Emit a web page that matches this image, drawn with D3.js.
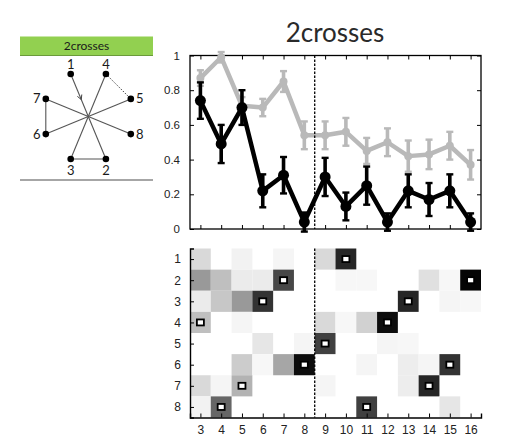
<!DOCTYPE html>
<html>
<head>
<meta charset="utf-8">
<script src="https://cdn.jsdelivr.net/npm/d3@7/dist/d3.min.js"></script>
<style>
  html, body { margin: 0; padding: 0; background: #fff; }
  svg { display: block; }
</style>
</head>
<body>
<svg id="chart" width="506" height="438"></svg>
<script>
// ---- data ----
const positions = [3, 4, 5, 6, 7, 8, 9, 10, 11, 12, 13, 14, 15, 16];
const grayMean = [0.87, 0.99, 0.71, 0.70, 0.85, 0.54, 0.54, 0.56, 0.45, 0.50, 0.42, 0.43, 0.48, 0.37];
const grayErr  = [0.045, 0.03, 0.05, 0.05, 0.06, 0.08, 0.08, 0.08, 0.075, 0.08, 0.09, 0.085, 0.08, 0.085];
const blackMean = [0.74, 0.49, 0.70, 0.22, 0.31, 0.04, 0.30, 0.13, 0.25, 0.04, 0.22, 0.17, 0.22, 0.04];
const blackErr  = [0.105, 0.11, 0.10, 0.095, 0.105, 0.055, 0.11, 0.08, 0.11, 0.05, 0.095, 0.095, 0.095, 0.05];
const yTicks = [0, 0.2, 0.4, 0.6, 0.8, 1];
const items = [1, 2, 3, 4, 5, 6, 7, 8];
// correct item at each position of the sequence
const targets = [4, 8, 7, 3, 2, 6, 5, 1, 8, 4, 3, 7, 6, 2];
// response proportions: one row per item, one column per position (3..16)
const row1 = [0.15, 0.00, 0.05, 0.00, 0.04, 0.00, 0.15, 0.85, 0.00, 0.00, 0.00, 0.00, 0.00, 0.00];
const row2 = [0.40, 0.25, 0.08, 0.08, 0.72, 0.00, 0.00, 0.03, 0.03, 0.00, 0.00, 0.12, 0.03, 0.98];
const row3 = [0.08, 0.22, 0.40, 0.80, 0.00, 0.00, 0.00, 0.00, 0.00, 0.00, 0.85, 0.00, 0.04, 0.03];
const row4 = [0.25, 0.00, 0.04, 0.00, 0.00, 0.00, 0.15, 0.03, 0.18, 0.95, 0.00, 0.00, 0.00, 0.00];
const row5 = [0.00, 0.00, 0.00, 0.10, 0.00, 0.04, 0.75, 0.00, 0.00, 0.04, 0.03, 0.00, 0.00, 0.00];
const row6 = [0.00, 0.00, 0.20, 0.03, 0.35, 0.95, 0.00, 0.00, 0.04, 0.00, 0.07, 0.04, 0.80, 0.00];
const row7 = [0.15, 0.04, 0.30, 0.00, 0.00, 0.00, 0.04, 0.00, 0.00, 0.00, 0.07, 0.85, 0.00, 0.00];
const row8 = [0.05, 0.60, 0.00, 0.00, 0.00, 0.00, 0.00, 0.00, 0.75, 0.00, 0.00, 0.00, 0.10, 0.00];
const matrixRows = [row1, row2, row3, row4, row5, row6, row7, row8];
const divider = 8.5;

// pattern diagram: octagon order (clockwise from top-left) and edges
const nodeOrder = [1, 4, 5, 8, 2, 3, 6, 7];
const solidEdges = [[1, 2], [4, 3], [7, 8], [5, 6], [7, 6], [3, 2]];
const dottedEdges = [[4, 5]];
const patternName = "2crosses";

// ---- drawing ----
const svg = d3.select("#chart");
const axisFont = "'Liberation Sans', Arial, sans-serif";
const titleFont = "Lato, 'Open Sans', sans-serif";

// title
svg.append("text")
  .attr("x", 335).attr("y", 41.5)
  .attr("text-anchor", "middle")
  .attr("font-family", titleFont)
  .attr("font-size", 26)
  .attr("fill", "#2a2a2a")
  .text(patternName);

// shared x scale
const x = d3.scaleLinear().domain([2.5, 16.5]).range([190, 481]);

// ---------- top panel: proportion per position ----------
const yTop = d3.scaleLinear().domain([0, 1]).range([229, 55.5]);
const topPanel = svg.append("g");

const tickLen = 4;
// frame
topPanel.append("rect")
  .attr("x", x(2.5)).attr("y", yTop(1))
  .attr("width", x(16.5) - x(2.5)).attr("height", yTop(0) - yTop(1))
  .attr("fill", "none").attr("stroke", "#000").attr("stroke-width", 1.3);

// inward ticks on all four sides
const xAxisB = d3.axisTop(x).tickValues(positions).tickSize(tickLen).tickFormat("");
topPanel.append("g").attr("transform", `translate(0,${yTop(0)})`).call(xAxisB);
const xAxisT = d3.axisBottom(x).tickValues(positions).tickSize(tickLen).tickFormat("");
topPanel.append("g").attr("transform", `translate(0,${yTop(1)})`).call(xAxisT);
const yAxisL = d3.axisLeft(yTop).tickValues(yTicks).tickSize(-tickLen)
  .tickFormat(d => d === 0 || d === 1 ? d3.format("d")(d) : d3.format(".1f")(d))
  .tickPadding(10);
topPanel.append("g").attr("transform", `translate(${x(2.5)},0)`).call(yAxisL);
const yAxisR = d3.axisRight(yTop).tickValues(yTicks).tickSize(-tickLen).tickFormat("");
topPanel.append("g").attr("transform", `translate(${x(16.5)},0)`).call(yAxisR);
topPanel.selectAll(".domain").remove();
topPanel.selectAll(".tick line").attr("stroke", "#000");
topPanel.selectAll(".tick text").attr("font-family", axisFont).attr("font-size", 11.5).attr("fill", "#222");

function drawSeries(g, means, errs, color, r, lw) {
  const pts = positions.map((p, i) => ({ p, m: means[i], e: errs[i] }));
  const line = d3.line().x(d => x(d.p)).y(d => yTop(d.m));
  g.append("path").datum(pts)
    .attr("d", line).attr("fill", "none")
    .attr("stroke", color).attr("stroke-width", lw).attr("stroke-linejoin", "round");
  const eb = g.append("g").selectAll("g").data(pts).join("g");
  eb.append("line")
    .attr("x1", d => x(d.p)).attr("x2", d => x(d.p))
    .attr("y1", d => yTop(d.m + d.e)).attr("y2", d => yTop(d.m - d.e))
    .attr("stroke", color).attr("stroke-width", 3.6);
  [1, -1].forEach(s => {
    eb.append("line")
      .attr("x1", d => x(d.p) - 3.5).attr("x2", d => x(d.p) + 3.5)
      .attr("y1", d => yTop(d.m + s * d.e)).attr("y2", d => yTop(d.m + s * d.e))
      .attr("stroke", color).attr("stroke-width", 2.4);
  });
  g.append("g").selectAll("circle").data(pts).join("circle")
    .attr("cx", d => x(d.p)).attr("cy", d => yTop(d.m))
    .attr("r", r).attr("fill", color);
}
const plot = topPanel.append("g");
drawSeries(plot, grayMean, grayErr, "#b9b9b9", 4, 4.5);
drawSeries(plot, blackMean, blackErr, "#000", 5.5, 4.5);

topPanel.append("line")
  .attr("x1", x(divider)).attr("x2", x(divider))
  .attr("y1", yTop(1)).attr("y2", yTop(0))
  .attr("stroke", "#000").attr("stroke-width", 1.3).attr("stroke-dasharray", "2.5,1.5");

// ---------- bottom panel: response matrix ----------
const yBot = d3.scaleLinear().domain([0.5, 8.5]).range([248.5, 417.5]);
const bot = svg.append("g");
const shade = d3.scaleLinear().domain([0, 1]).range(["#ffffff", "#000000"]);

const cells = [];
matrixRows.forEach((row, ri) => row.forEach((v, ci) => {
  cells.push({ item: items[ri], pos: positions[ci], v });
}));
bot.append("g").selectAll("rect").data(cells.filter(d => d.v > 0)).join("rect")
  .attr("x", d => x(d.pos - 0.5)).attr("y", d => yBot(d.item - 0.5))
  .attr("width", d => x(d.pos + 0.5) - x(d.pos - 0.5))
  .attr("height", d => yBot(d.item + 0.5) - yBot(d.item - 0.5))
  .attr("fill", d => shade(d.v));

// correct-item markers
bot.append("g").selectAll("rect").data(positions.map((p, i) => ({ p, item: targets[i] }))).join("rect")
  .attr("x", d => x(d.p) - 3.5).attr("y", d => yBot(d.item) - 3)
  .attr("width", 7).attr("height", 6)
  .attr("fill", "#fff").attr("stroke", "#000").attr("stroke-width", 1.8);

const bx = d3.axisBottom(x).tickValues(positions).tickSize(-tickLen).tickPadding(8);
bot.append("g").attr("class", "bx").attr("transform", `translate(0,${yBot(8.5)})`).call(bx);
const by = d3.axisLeft(yBot).tickValues(items).tickSize(-tickLen).tickPadding(9);
bot.append("g").attr("class", "by").attr("transform", `translate(${x(2.5)},0)`).call(by);
bot.selectAll(".domain").attr("stroke", "#000").attr("stroke-width", 1.4);
bot.selectAll(".tick line").attr("stroke", "#000");
bot.selectAll(".tick text").attr("font-family", axisFont).attr("font-size", 12).attr("fill", "#222");

bot.append("line")
  .attr("x1", x(divider)).attr("x2", x(divider))
  .attr("y1", yBot(0.5)).attr("y2", yBot(8.5))
  .attr("stroke", "#000").attr("stroke-width", 1.3).attr("stroke-dasharray", "2.5,1.5");

// ---------- pattern diagram ----------
const diag = svg.append("g");
diag.append("rect").attr("x", 20).attr("y", 36.5).attr("width", 133).attr("height", 19.5)
  .attr("fill", "#92d050");
diag.append("line").attr("x1", 20).attr("x2", 153).attr("y1", 55.5).attr("y2", 55.5)
  .attr("stroke", "#6b9a3a").attr("stroke-width", 1);
diag.append("text").attr("x", 86.5).attr("y", 50)
  .attr("text-anchor", "middle").attr("font-family", titleFont).attr("font-size", 12)
  .attr("fill", "#1a1a1a").text(patternName);
diag.append("line").attr("x1", 20).attr("x2", 153).attr("y1", 180).attr("y2", 180)
  .attr("stroke", "#a6a6a6").attr("stroke-width", 2);

const cx = 88.3, cy = 116.5, R = 46;
const nodePos = {};
nodeOrder.forEach((n, i) => {
  const a = (-22.5 + 45 * i) * Math.PI / 180;
  nodePos[n] = { x: cx + R * Math.sin(a), y: cy - R * Math.cos(a), a };
});
diag.append("g").selectAll("line").data(solidEdges).join("line")
  .attr("x1", d => nodePos[d[0]].x).attr("y1", d => nodePos[d[0]].y)
  .attr("x2", d => nodePos[d[1]].x).attr("y2", d => nodePos[d[1]].y)
  .attr("stroke", "#555").attr("stroke-width", 1.1);
diag.append("g").selectAll("line").data(dottedEdges).join("line")
  .attr("x1", d => nodePos[d[0]].x).attr("y1", d => nodePos[d[0]].y)
  .attr("x2", d => nodePos[d[1]].x).attr("y2", d => nodePos[d[1]].y)
  .attr("stroke", "#444").attr("stroke-width", 1).attr("stroke-dasharray", "1.5,1.5");

// direction arrow on the first stroke (1 -> 2)
{
  const s = nodePos[1], e = nodePos[2];
  const t = 0.3;
  const px = s.x + (e.x - s.x) * t, py = s.y + (e.y - s.y) * t;
  const ang = Math.atan2(e.y - s.y, e.x - s.x);
  const L = 5, spread = 0.5;
  const path = d3.path();
  path.moveTo(px - L * Math.cos(ang - spread), py - L * Math.sin(ang - spread));
  path.lineTo(px, py);
  path.lineTo(px - L * Math.cos(ang + spread), py - L * Math.sin(ang + spread));
  diag.append("path").attr("d", path.toString()).attr("fill", "none")
    .attr("stroke", "#444").attr("stroke-width", 1);
}

diag.append("g").selectAll("circle").data(nodeOrder).join("circle")
  .attr("cx", n => nodePos[n].x).attr("cy", n => nodePos[n].y)
  .attr("r", 3.3).attr("fill", "#000");

diag.append("g").selectAll("text").data(nodeOrder).join("text")
  .attr("x", n => {
    const p = nodePos[n];
    const sx = Math.sin(p.a);
    return Math.abs(sx) > 0.6 ? p.x + (sx > 0 ? 9 : -9) : p.x;
  })
  .attr("y", n => {
    const p = nodePos[n];
    const sx = Math.sin(p.a), cyv = -Math.cos(p.a);
    if (Math.abs(sx) > 0.6) return p.y + 4.5;
    return cyv < 0 ? p.y - 5 : p.y + 16;
  })
  .attr("text-anchor", "middle")
  .attr("font-family", titleFont).attr("font-size", 13)
  .attr("fill", "#1a1a1a")
  .text(n => n);
</script>
</body>
</html>
